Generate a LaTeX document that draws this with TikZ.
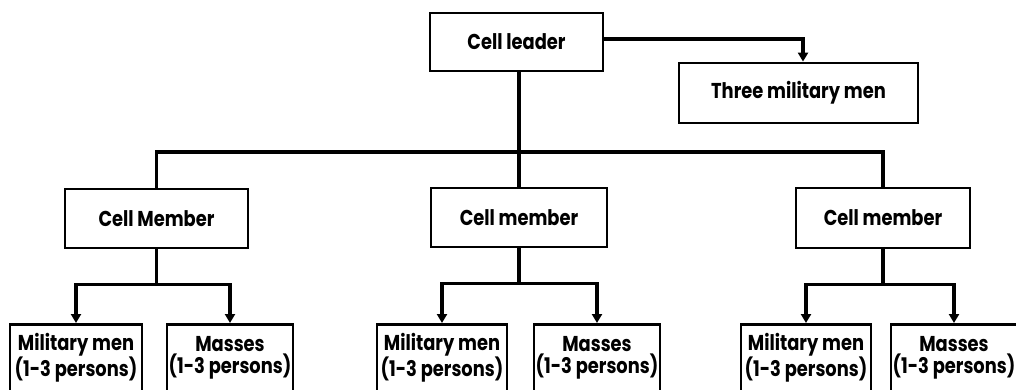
\documentclass[tikz,border=0pt]{standalone}
\usepackage{fontspec}
\newfontfamily\boxfont[FakeStretch=0.83]{Poppins}
\usetikzlibrary{arrows.meta}
\begin{document}
\begin{tikzpicture}[x=1pt,y=-1pt,
  box/.style={draw,line width=2.8pt,inner sep=0pt,align=center,
    font=\boxfont\bfseries\fontsize{21.5}{21.5}\selectfont},
  conn/.style={line width=3.6pt},
  arr/.style={conn,-{Triangle[width=10pt,length=9pt]}}]
\useasboundingbox (0,0) rectangle (1016,390);
\clip (0,0) rectangle (1016,390);
\fill[white] (0,0) rectangle (1016,390);
% top
\node[box,minimum width=173pt,minimum height=58pt] (leader) at (516.5,42) {Cell leader};
\node[box,minimum width=239pt,minimum height=60pt] (three) at (798.5,93) {Three military men};
% members
\node[box,minimum width=183pt,minimum height=59pt] (m1) at (156.5,218.5) {Cell Member};
\node[box,minimum width=176pt,minimum height=59pt] (m2) at (519,217.5) {Cell member};
\node[box,minimum width=174pt,minimum height=60pt] (m3) at (883,218) {Cell member};
% bottom
\tikzset{leaf/.style={box,minimum width=130pt,minimum height=67pt,anchor=north}}
\node[leaf,minimum width=132pt] (a1) at (76,323) {Military men\\(1-3 persons)};
\node[leaf,minimum width=126pt] (b1) at (230,323) {Masses\\(1-3 persons)};
\node[leaf] (a2) at (442,323) {Military men\\(1-3 persons)};
\node[leaf,minimum width=126pt] (b2) at (597,323) {Masses\\(1-3 persons)};
\node[leaf] (a3) at (806,323) {Military men\\(1-3 persons)};
\node[leaf,minimum width=126pt] (b3) at (954,323) {Masses\\(1-3 persons)};
% connectors
\coordinate (t) at (803,39);
\draw[arr] (leader.east |- t) -- (t) -- (t |- three.north);
\coordinate (bus) at (519,152);
\draw[conn] (leader.south -| bus) -- (m2.north);
\draw[conn] (m1.north) |- (bus) -| (m3.north);
\foreach \m/\a/\b in {m1/a1/b1,m2/a2/b2,m3/a3/b3}{
  \draw[conn] (\m.south) -- ++(0,35) coordinate (j\m);
  \draw[arr] (j\m) -| (\a.north);
  \draw[arr] (j\m) -| (\b.north);
}
\end{tikzpicture}
\end{document}
